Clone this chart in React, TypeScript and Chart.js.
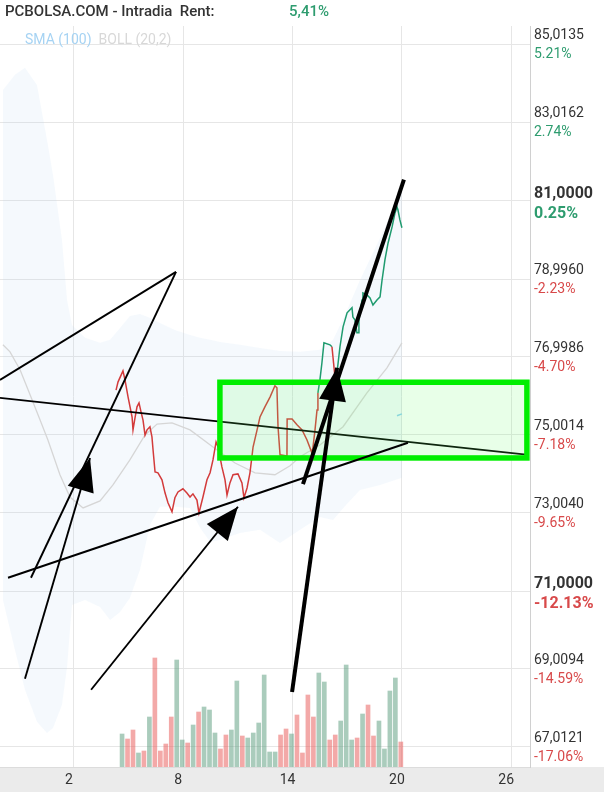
import React, { useEffect, useRef } from "react";
import { Chart, registerables } from "chart.js";

Chart.register(...registerables);

// ---------- axes / labels ----------
const xTicks = [2, 8, 14, 20, 26];
const xMin = -2.06;
const xMax = 27.03;
const yMin = 66.49;
const yMax = 85.48;
const priceTicks = [85.0135, 83.0162, 81.0, 78.996, 76.9986, 75.0014, 73.004, 71.0, 69.0094, 67.0121];
const priceLabels = ["85,0135", "83,0162", "81,0000", "78,9960", "76,9986", "75,0014", "73,0040", "71,0000", "69,0094", "67,0121"];
const pctLabels = ["5.21%", "2.74%", "0.25%", "-2.23%", "-4.70%", "-7.18%", "-9.65%", "-12.13%", "-14.59%", "-17.06%"];
const boldTicks = [81.0, 71.0];
const titleText = "PCBOLSA.COM - Intradia  Rent:";
const rentText = "5,41%";
const legendSma = "SMA (100)";
const legendBoll = "BOLL (20,2)";

// ---------- price line ----------
const priceX = [4.31, 4.42, 4.69, 4.80, 4.97, 5.19, 5.24, 5.35, 5.46, 5.57,
  5.68, 5.79, 5.90, 6.01, 6.17, 6.28, 6.34, 6.45, 6.61, 6.83,
  7.00, 7.16, 7.38, 7.54, 7.71, 7.98, 8.20, 8.37, 8.53, 8.75,
  8.86, 9.08, 9.30, 9.47, 9.63, 9.80, 9.91, 10.12, 10.29, 10.40,
  10.56, 10.73, 11.00, 11.22, 11.33, 11.50, 11.66, 11.83, 12.05, 12.21,
  12.48, 12.76, 13.03, 13.14, 13.20, 13.31, 13.69, 13.70, 13.97, 14.24,
  14.52, 14.79, 15.06, 15.12, 15.23, 15.34, 15.39, 15.50, 15.61, 15.72,
  16.05, 16.16, 16.33, 16.44, 16.60, 16.77, 16.99, 17.26, 17.31, 17.42,
  17.53, 17.59, 17.64, 17.81, 17.86, 18.08, 18.25, 18.41, 18.63, 18.80,
  18.91, 19.07, 19.24, 19.46, 19.62, 19.73, 19.78, 19.89, 20.00];
const priceY = [76.15, 76.36, 76.64, 76.41, 75.97, 75.46, 75.13, 75.44, 75.72, 75.82,
  75.59, 75.38, 75.00, 75.13, 75.21, 74.95, 74.62, 74.05, 74.03, 73.85,
  73.51, 73.26, 73.03, 73.39, 73.54, 73.62, 73.51, 73.41, 73.49, 73.33,
  73.00, 73.41, 73.85, 74.03, 74.36, 74.82, 74.69, 74.18, 73.85, 73.46,
  73.77, 73.98, 74.00, 73.77, 73.39, 73.64, 74.03, 74.69, 75.13, 75.46,
  75.72, 75.97, 76.26, 76.21, 75.21, 74.49, 74.46, 75.41, 75.41, 75.26,
  75.13, 74.87, 74.54, 74.69, 75.13, 75.64, 76.08, 76.41, 76.85, 77.36,
  77.31, 77.26, 76.46, 76.61, 77.26, 77.77, 78.13, 78.26, 78.02, 77.95,
  77.62, 77.62, 77.95, 78.46, 78.64, 78.59, 78.51, 78.33, 78.46, 78.54,
  78.97, 79.49, 79.92, 80.33, 80.69, 80.84, 80.77, 80.51, 80.31];
// segment trend: first index of the rising (green) part, and falling segments after it
const priceGreenFrom = 66;
const priceRedSegments = [71];

// ---------- Bollinger (20,2) ----------
const bandX = [-1.90, -1.24, -0.69, -0.03, 0.52, 0.85, 1.34, 1.62, 1.89, 2.61,
  3.43, 3.98, 4.53, 5.07, 5.62, 6.17, 6.72, 7.54, 8.37, 8.92,
  9.47, 10.01, 11.11, 12.21, 13.31, 14.41, 15.50, 16.22, 16.88, 17.70,
  18.80, 20.00];
const bandUpper = [83.84, 84.23, 84.41, 83.97, 82.56, 81.66, 80.00, 78.46, 77.82, 77.49,
  77.36, 77.44, 77.74, 78.05, 78.10, 78.00, 77.87, 77.69, 77.56, 77.49,
  77.44, 77.38, 77.31, 77.23, 77.15, 77.13, 77.18, 77.44, 78.08, 78.97,
  80.05, 81.28];
const bandLower = [70.77, 69.49, 68.47, 67.65, 67.36, 67.49, 68.08, 69.05, 70.64, 70.77,
  70.59, 70.26, 70.46, 70.82, 71.54, 72.69, 73.16, 73.16, 73.13, 72.62,
  72.26, 72.31, 72.49, 72.57, 72.23, 72.57, 72.90, 72.82, 73.18, 73.59,
  73.72, 73.90];
const midX = [-1.90, -1.51, -0.96, -0.41, 0.14, 0.57, 1.23, 1.78, 2.50, 3.43,
  4.14, 5.07, 5.90, 6.56, 7.38, 8.37, 9.63, 10.84, 11.94, 13.03,
  13.86, 14.41, 15.50, 16.77, 18.08, 19.18, 20.00];
const midY = [77.31, 77.13, 76.67, 76.03, 75.38, 74.87, 73.98, 73.41, 73.13, 73.31,
  73.72, 74.36, 75.00, 75.28, 75.31, 75.13, 74.69, 74.28, 74.03, 73.98,
  74.21, 74.44, 74.74, 75.21, 76.08, 76.72, 77.36];

// ---------- SMA (100) ----------
const smaX = [19.73, 20.00];
const smaY = [75.49, 75.54];

// ---------- volume ----------
const volX = [4.64, 4.94, 5.24, 5.54, 5.84, 6.14, 6.44, 6.74, 7.04, 7.34,
  7.64, 7.94, 8.24, 8.54, 8.84, 9.14, 9.44, 9.74, 10.04, 10.34,
  10.64, 10.94, 11.24, 11.54, 11.84, 12.14, 12.44, 12.74, 13.04, 13.34,
  13.64, 13.94, 14.24, 14.54, 14.84, 15.14, 15.44, 15.74, 16.04, 16.34,
  16.64, 16.94, 17.24, 17.54, 17.84, 18.14, 18.44, 18.74, 19.04, 19.34,
  19.64, 19.94];
const volY = [99, 84, 111, 42, 48, 150, 327, 48, 69, 150,
  321, 81, 72, 126, 165, 180, 171, 102, 54, 96,
  111, 258, 93, 87, 102, 132, 276, 45, 45, 96,
  114, 99, 156, 42, 216, 150, 282, 255, 81, 96,
  138, 306, 81, 87, 159, 186, 93, 138, 54, 228,
  267, 75];
const volUp = [1, 0, 0, 1, 0, 1, 0, 0, 0, 0,
  1, 1, 0, 1, 0, 1, 1, 1, 0, 0,
  1, 1, 0, 1, 1, 1, 1, 1, 1, 0,
  0, 1, 0, 0, 0, 0, 1, 1, 0, 0,
  1, 1, 1, 0, 1, 0, 0, 1, 1, 1,
  1, 0];
const volMax = 2223;

// ---------- user drawings (value units) ----------
const drawX0 = [-2.06, -2.06, 7.60, -0.69, -1.62, 2.94, 13.97, 14.57];
const drawY0 = [75.95, 76.41, 79.18, 68.75, 71.34, 68.47, 68.41, 73.74];
const drawX1 = [26.95, 7.60, -0.36, 2.88, 20.33, 11.00, 16.44, 20.11];
const drawY1 = [74.49, 79.18, 71.34, 74.41, 74.80, 73.16, 76.72, 81.54];
const drawKind = ["under", "thin", "thin", "arrow", "thin", "arrow", "thickArrow", "thick"];
const boxX = [10.01, 26.86];
const boxY = [74.41, 76.35];

const RED = "#d33b3b";
const GREEN = "#1f9b6f";
const PCT_RED = "#d8494a";
const PCT_GREEN = "#2e9c6f";

const pts = (xs: number[], ys: number[]) => xs.map((x, i) => ({ x, y: ys[i] }));

function drawLine(ctx: CanvasRenderingContext2D, x0: number, y0: number, x1: number, y1: number, w: number, head: boolean) {
  ctx.strokeStyle = "#000";
  ctx.lineWidth = w;
  ctx.lineCap = "butt";
  ctx.beginPath();
  ctx.moveTo(x0, y0);
  ctx.lineTo(x1, y1);
  ctx.stroke();
  if (head) {
    const a = Math.atan2(y1 - y0, x1 - x0);
    const len = 33;
    const hw = 13.5;
    const bx = x1 - Math.cos(a) * len;
    const by = y1 - Math.sin(a) * len;
    ctx.fillStyle = "#000";
    ctx.beginPath();
    ctx.moveTo(x1, y1);
    ctx.lineTo(bx + Math.sin(a) * hw, by - Math.cos(a) * hw);
    ctx.lineTo(bx - Math.sin(a) * hw, by + Math.cos(a) * hw);
    ctx.closePath();
    ctx.fill();
  }
}

const overlayPlugin = {
  id: "overlay",
  beforeDraw(chart: any) {
    const { ctx, chartArea, width, height } = chart;
    ctx.save();
    ctx.fillStyle = "#fff";
    ctx.fillRect(0, 0, width, height);
    ctx.fillStyle = "#ebebeb";
    ctx.fillRect(0, chartArea.bottom, width, height - chartArea.bottom);
    ctx.restore();
  },
  afterDatasetsDraw(chart: any) {
    const { ctx, chartArea } = chart;
    const xs = chart.scales.x;
    const ys = chart.scales.y;
    const px = (v: number) => xs.getPixelForValue(v);
    const py = (v: number) => ys.getPixelForValue(v);
    ctx.save();
    ctx.beginPath();
    ctx.rect(chartArea.left, chartArea.top, chartArea.right - chartArea.left, chartArea.bottom - chartArea.top);
    ctx.clip();
    // lines beneath the box
    drawKind.forEach((k, i) => {
      if (k === "under") drawLine(ctx, px(drawX0[i]), py(drawY0[i]), px(drawX1[i]), py(drawY1[i]), 1.6, false);
    });
    // box
    const bx0 = px(boxX[0]);
    const bx1 = px(boxX[1]);
    const by0 = py(boxY[1]);
    const by1 = py(boxY[0]);
    ctx.fillStyle = "rgba(100,255,100,0.15)";
    ctx.fillRect(bx0, by0, bx1 - bx0, by1 - by0);
    ctx.strokeStyle = "#00ee00";
    ctx.lineWidth = 5.5;
    ctx.strokeRect(bx0, by0, bx1 - bx0, by1 - by0);
    // other drawings
    drawKind.forEach((k, i) => {
      if (k === "under") return;
      const w = k === "thick" || k === "thickArrow" ? 4 : 1.9;
      const head = k === "arrow" || k === "thickArrow";
      drawLine(ctx, px(drawX0[i]), py(drawY0[i]), px(drawX1[i]), py(drawY1[i]), w, head);
    });
    ctx.restore();
  },
  afterDraw(chart: any) {
    const { ctx, chartArea } = chart;
    const xs = chart.scales.x;
    const ys = chart.scales.y;
    ctx.save();
    // title
    ctx.textBaseline = "middle";
    ctx.textAlign = "left";
    ctx.font = "500 15px Roboto";
    ctx.fillStyle = "#333";
    ctx.fillText(titleText, 5, 12);
    ctx.fillStyle = PCT_GREEN;
    ctx.fillText(rentText, 289, 12);
    // legend
    ctx.font = "14px Roboto";
    ctx.fillStyle = "#a6d3f3";
    ctx.fillText(legendSma, 25, 40);
    const w = ctx.measureText(legendSma).width;
    ctx.fillStyle = "#d8d8d8";
    ctx.fillText(legendBoll, 25 + w + 7, 40);
    // y labels
    ctx.textBaseline = "alphabetic";
    priceTicks.forEach((v, i) => {
      const y = ys.getPixelForValue(v);
      const bold = boldTicks.includes(v);
      ctx.font = bold ? "bold 16px Roboto" : "14px Roboto";
      ctx.fillStyle = "#333";
      ctx.fillText(priceLabels[i], chartArea.right + 4, y - (bold ? 3 : 5));
      ctx.fillStyle = pctLabels[i].startsWith("-") ? PCT_RED : PCT_GREEN;
      ctx.fillText(pctLabels[i], chartArea.right + 4, y + (bold ? 17 : 14));
    });
    // x labels
    ctx.font = "14px Roboto";
    ctx.fillStyle = "#333";
    ctx.textAlign = "center";
    ctx.textBaseline = "middle";
    xTicks.forEach((v) => {
      ctx.fillText(String(v), xs.getPixelForValue(v) - 5, chartArea.bottom + 13);
    });
    ctx.restore();
  },
};

export default function App() {
  const ref = useRef<HTMLCanvasElement | null>(null);
  useEffect(() => {
    if (!ref.current) return;
    const chart = new Chart(ref.current, {
      type: "line",
      data: {
        datasets: [
          {
            label: "BOLL upper",
            data: pts(bandX, bandUpper),
            borderWidth: 0,
            borderColor: "rgba(0,0,0,0)",
            backgroundColor: "rgba(190,212,240,0.15)",
            fill: 1,
            pointRadius: 0,
            order: 10,
          },
          {
            label: "BOLL lower",
            data: pts(bandX, bandLower),
            borderWidth: 0,
            borderColor: "rgba(0,0,0,0)",
            fill: false,
            pointRadius: 0,
            order: 10,
          },
          {
            type: "bar",
            label: "Volumen",
            data: pts(volX, volY),
            yAxisID: "yVol",
            barThickness: 4,
            backgroundColor: volUp.map((u) => (u ? "rgba(86,154,121,0.5)" : "rgba(231,84,82,0.5)")),
            borderWidth: 0,
            order: 9,
          } as any,
          {
            label: "BOLL",
            data: pts(midX, midY),
            borderColor: "#d6d6d6",
            borderWidth: 1.3,
            pointRadius: 0,
            fill: false,
            order: 8,
          },
          {
            label: "SMA (100)",
            data: pts(smaX, smaY),
            borderColor: "#8fd0f0",
            borderWidth: 1.5,
            pointRadius: 0,
            fill: false,
            order: 7,
          },
          {
            label: "Precio",
            data: pts(priceX, priceY),
            borderColor: RED,
            borderWidth: 1.5,
            pointRadius: 0,
            fill: false,
            order: 6,
            segment: {
              borderColor: (c: any) =>
                c.p0DataIndex >= priceGreenFrom && !priceRedSegments.includes(c.p0DataIndex) ? GREEN : RED,
            },
          },
        ],
      },
      options: {
        responsive: false,
        animation: false,
        devicePixelRatio: 1,
        layout: { padding: { top: 26, left: 0, right: 0, bottom: 0 } },
        plugins: { legend: { display: false }, tooltip: { enabled: false } },
        elements: { line: { tension: 0 } },
        scales: {
          x: {
            type: "linear",
            min: xMin,
            max: xMax,
            offset: false,
            afterBuildTicks: (s: any) => {
              s.ticks = xTicks.map((v) => ({ value: v }));
            },
            afterFit: (s: any) => {
              s.height = 25;
            },
            ticks: { display: false },
            grid: { color: "#e6e6e6", lineWidth: 1, drawTicks: false, offset: false },
            border: { display: true, color: "#dcdcdc" },
          },
          y: {
            type: "linear",
            position: "right",
            min: yMin,
            max: yMax,
            afterBuildTicks: (s: any) => {
              s.ticks = priceTicks.map((v) => ({ value: v }));
            },
            afterFit: (s: any) => {
              s.width = 74;
            },
            ticks: { display: false },
            grid: { color: "#e6e6e6", lineWidth: 1, drawTicks: false },
            border: { display: true, color: "#d0d0d0" },
          },
          yVol: {
            type: "linear",
            display: false,
            min: 0,
            max: volMax,
          },
        },
      } as any,
      plugins: [overlayPlugin as any],
    });
    return () => chart.destroy();
  }, []);
  return (
    <div style={{ position: "fixed", left: 0, top: 0, width: 604, height: 792, background: "#fff" }}>
      <canvas ref={ref} width={604} height={792} />
    </div>
  );
}
